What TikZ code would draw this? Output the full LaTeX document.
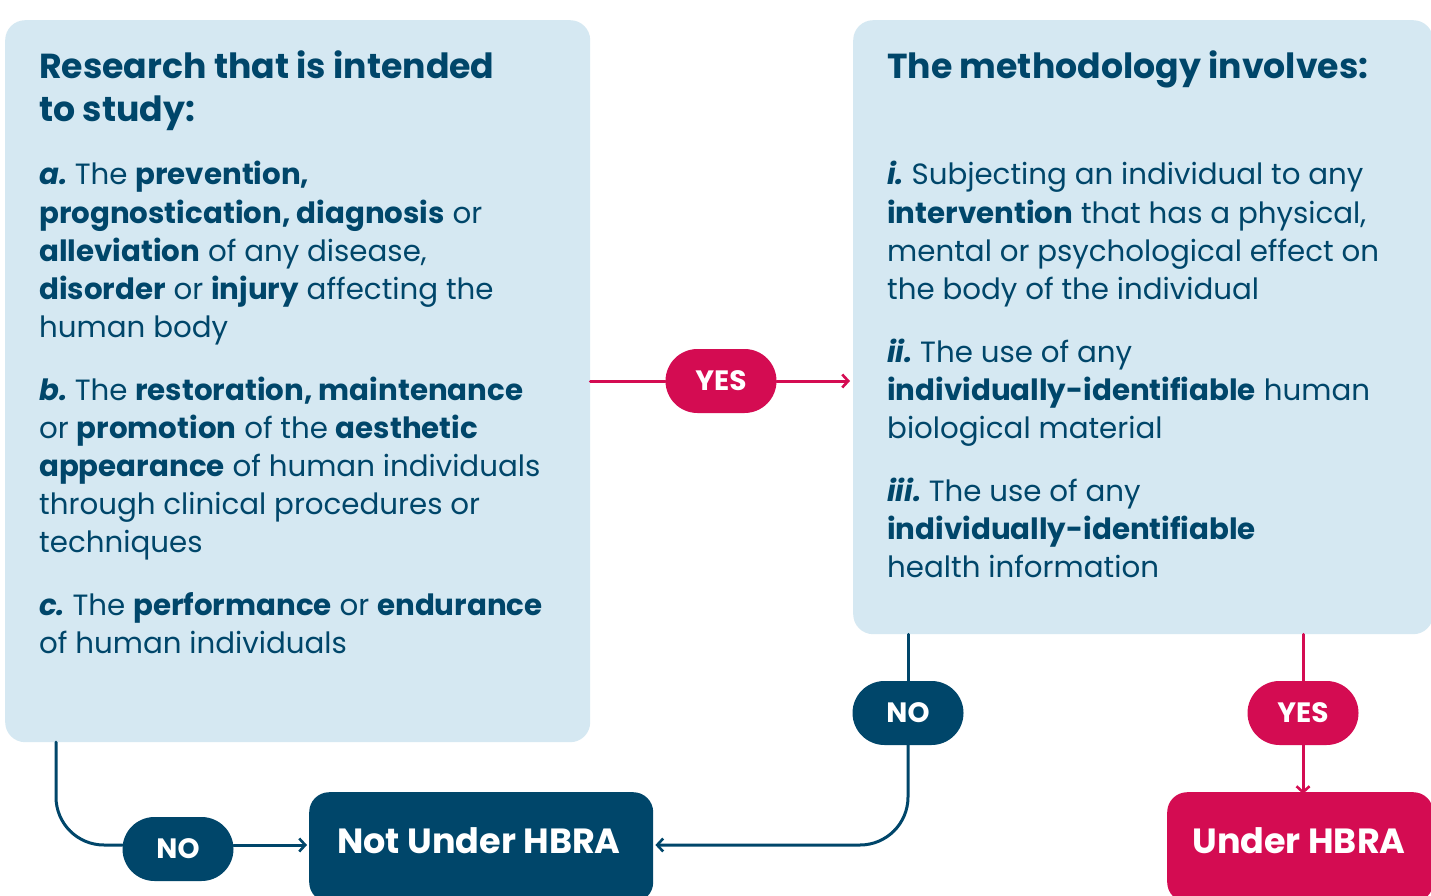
\documentclass[tikz,border=0pt]{standalone}
\usepackage{fontspec}
\setmainfont{Poppins}
\usetikzlibrary{arrows.meta,shapes.misc}
\definecolor{navy}{HTML}{00466A}
\definecolor{pale}{HTML}{D5E8F2}
\definecolor{magenta}{HTML}{D40C52}
\tikzset{
  bigbox/.style={fill=pale, rounded corners=20pt, inner sep=0pt, anchor=north west},
  endbox/.style={rounded corners=20pt, inner sep=0pt, anchor=north west, text=white,
    font=\fontsize{35}{40}\selectfont\bfseries},
  pill/.style={rounded rectangle, minimum width=111pt, minimum height=64pt, inner sep=0pt,
    text=white, font=\fontsize{28}{32}\selectfont\bfseries},
  title/.style={anchor=base west, inner sep=0pt, text=navy, font=\fontsize{34.7}{43}\selectfont\bfseries},
  body/.style={anchor=base west, inner sep=0pt, text=navy, font=\fontsize{29.3}{38}\selectfont},
  conn/.style={line width=3pt, line cap=round},
  tip/.style={-{Straight Barb[length=6pt,width=13pt,line width=2.6pt]}},
}
\newcommand{\bi}[1]{{\bfseries\itshape #1}\hspace{-3pt}}
\begin{document}
\begin{tikzpicture}[x=1pt,y=-1pt]
\useasboundingbox (0,0) rectangle (1431,896);
\clip (0,0) rectangle (1431,896);
\fill[white] (0,0) rectangle (1431,896);
% boxes
\node[bigbox, minimum width=585pt, minimum height=722pt] (left) at (5,20) {};
\node[bigbox, minimum width=580pt, minimum height=614pt] (right) at (853,20) {};
\node[endbox, fill=navy, minimum width=344pt, minimum height=110pt] (notbox) at (309,792) {};
\node[endbox, fill=magenta, minimum width=266pt, minimum height=110pt] (underbox) at (1167,792) {};
\node[text=white, inner sep=0pt, font=\fontsize{35}{40}\selectfont\bfseries] (nottxt) at (479,841) {Not Under HBRA};
\node[text=white, inner sep=0pt, font=\fontsize{35}{40}\selectfont\bfseries] (undertxt) at (1299,841) {Under HBRA};
% pills
\node[pill, fill=magenta] (yes1) at (721,381) {YES};
\node[pill, fill=navy] (no2) at (908,713) {NO};
\node[pill, fill=magenta] (yes2) at (1303,713) {YES};
\node[pill, fill=navy] (no1) at (178,849) {NO};
% connectors
\draw[conn, magenta] (left.east |- yes1) -- (yes1.west);
\draw[conn, magenta, tip] (yes1.east) -- ([xshift=-3pt]right.west |- yes1);
\draw[conn, magenta] (yes2 |- right.south) -- (yes2.north);
\draw[conn, magenta, tip] (yes2.south) -- ([yshift=-2pt]yes2 |- underbox.north);
\draw[conn, navy] (no2 |- right.south) -- (no2.north);
\draw[conn, navy, tip, rounded corners=48pt] (no2.south) |- ([xshift=2pt]notbox.east |- 0,845);
\coordinate (lstart) at (56,742);
\draw[conn, navy, rounded corners=48pt] (lstart) |- (no1.west |- 0,845);
\draw[conn, navy, tip] (no1.east |- 0,845) -- ([xshift=-2pt]notbox.west |- 0,845);
% left texts
\node[title] (t1) at (39,79) {Research that is intended};
\node[title] (t2) at (39,122) {to study:};
\node[body] (a1) at (39,185) {\bi{a.} The \textbf{prevention,}};
\node[body] (a2) at (39,223) {\textbf{prognostication, diagnosis} or};
\node[body] (a3) at (39,261) {\textbf{alleviation} of any disease,};
\node[body] (a4) at (39,299) {\textbf{disorder} or \textbf{injury} affecting the};
\node[body] (a5) at (39,337) {human body};
\node[body] (b1) at (39,400) {\bi{b.} The \textbf{restoration, maintenance}};
\node[body] (b2) at (39,438) {or \textbf{promotion} of the \textbf{aesthetic}};
\node[body] (b3) at (39,476) {\textbf{appearance} of human individuals};
\node[body] (b4) at (39,514) {through clinical procedures or};
\node[body] (b5) at (39,552) {techniques};
\node[body] (c1) at (39,615) {\bi{c.} The \textbf{performance} or \textbf{endurance}};
\node[body] (c2) at (39,653) {of human individuals};
% right texts
\node[title] (t3) at (887,79) {The methodology involves:};
\node[body] (i1) at (887,185) {\bi{i.} Subjecting an individual to any};
\node[body] (i2) at (887,223) {\textbf{intervention} that has a physical,};
\node[body] (i3) at (887,261) {mental or psychological effect on};
\node[body] (i4) at (887,299) {the body of the individual};
\node[body] (j1) at (887,362) {\bi{ii.} The use of any};
\node[body] (j2) at (887,400) {\textbf{individually-identifiable} human};
\node[body] (j3) at (887,438) {biological material};
\node[body] (k1) at (887,501) {\bi{iii.} The use of any};
\node[body] (k2) at (887,539) {\textbf{individually-identifiable}};
\node[body] (k3) at (887,577) {health information};
\end{tikzpicture}
\end{document}
